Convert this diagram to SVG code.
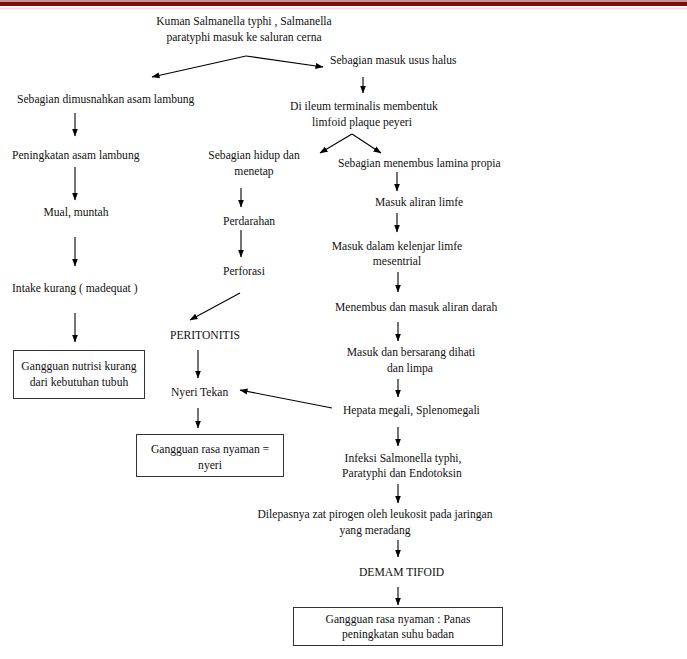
<svg xmlns="http://www.w3.org/2000/svg" width="687" height="659" viewBox="0 0 687 659">
<defs>
<marker id="ah" markerUnits="userSpaceOnUse" markerWidth="8" markerHeight="8" viewBox="0 0 8 8" refX="7.5" refY="4" orient="auto">
<path d="M0,1 L8,4 L0,7 Z" fill="#000"/>
</marker>
<style>
text{font-family:"Liberation Serif","Times New Roman",serif;font-size:11.6px;fill:#111}
.m{text-anchor:middle}
.c{stroke:#000;stroke-width:1.1;fill:none;marker-end:url(#ah)}
.box{fill:#fff;stroke:#333;stroke-width:1}
</style>
</defs>
<rect width="687" height="659" fill="#fff"/>
<g id="header">
<rect x="0" y="0" width="687" height="2" fill="#c89090"/>
<rect x="0" y="2" width="687" height="4" fill="#7a0d0d"/>
<rect x="0" y="7.5" width="687" height="2" fill="#efdede"/>
</g>
<g id="connectors">
<line class="c" x1="246" y1="56" x2="152" y2="77"/>
<line class="c" x1="246" y1="56" x2="323" y2="67"/>
<line class="c" x1="363" y1="77" x2="363" y2="93"/>
<line class="c" x1="352" y1="134" x2="320" y2="153"/>
<line class="c" x1="352" y1="134" x2="381" y2="153"/>
<line class="c" x1="75" y1="113" x2="75" y2="136"/>
<line class="c" x1="75" y1="167" x2="75" y2="200"/>
<line class="c" x1="75" y1="237" x2="75" y2="266"/>
<line class="c" x1="75" y1="313" x2="75" y2="342"/>
<line class="c" x1="241" y1="188" x2="241" y2="207"/>
<line class="c" x1="241" y1="230" x2="241" y2="257"/>
<line class="c" x1="240" y1="293" x2="190" y2="320"/>
<line class="c" x1="198" y1="350" x2="198" y2="378"/>
<line class="c" x1="198" y1="408" x2="198" y2="428"/>
<line class="c" x1="332" y1="408" x2="240" y2="390"/>
<line class="c" x1="397" y1="172" x2="397" y2="191"/>
<line class="c" x1="397" y1="213" x2="397" y2="232"/>
<line class="c" x1="398" y1="272" x2="398" y2="292"/>
<line class="c" x1="398" y1="322" x2="398" y2="341"/>
<line class="c" x1="398" y1="379" x2="398" y2="397"/>
<line class="c" x1="398" y1="427" x2="398" y2="446"/>
<line class="c" x1="398" y1="484" x2="398" y2="503"/>
<line class="c" x1="398" y1="540" x2="398" y2="557"/>
<line class="c" x1="398" y1="587" x2="398" y2="605"/>
</g>
<g id="n-kuman"><text class="m" x="244" y="25">Kuman Salmanella typhi , Salmanella</text><text class="m" x="244" y="41">paratyphi masuk ke saluran cerna</text></g>
<g id="n-usus"><text x="330" y="64">Sebagian masuk usus halus</text></g>
<g id="n-dimusnahkan"><text x="17" y="103">Sebagian dimusnahkan asam lambung</text></g>
<g id="n-ileum"><text class="m" x="364" y="110">Di ileum terminalis membentuk</text><text class="m" x="362" y="126">limfoid plaque peyeri</text></g>
<g id="n-peningkatan"><text x="12" y="159">Peningkatan asam lambung</text></g>
<g id="n-mual"><text class="m" x="76" y="216">Mual, muntah</text></g>
<g id="n-intake"><text x="12" y="292">Intake kurang ( madequat )</text></g>
<g id="n-nutrisi"><rect class="box" x="13.5" y="350.5" width="131" height="48"/><text class="m" x="79" y="370">Gangguan nutrisi kurang</text><text class="m" x="79" y="386">dari kebutuhan tubuh</text></g>
<g id="n-hidup"><text class="m" x="254" y="159">Sebagian hidup dan</text><text class="m" x="254" y="175">menetap</text></g>
<g id="n-perdarahan"><text x="223" y="225">Perdarahan</text></g>
<g id="n-perforasi"><text x="223" y="275">Perforasi</text></g>
<g id="n-peritonitis"><text x="170" y="339">PERITONITIS</text></g>
<g id="n-nyeri"><text x="171" y="396">Nyeri Tekan</text></g>
<g id="n-nyaman"><rect class="box" x="136.5" y="434.5" width="147" height="42"/><text class="m" x="210" y="453">Gangguan rasa nyaman =</text><text class="m" x="210" y="469">nyeri</text></g>
<g id="n-lamina"><text x="338" y="167">Sebagian menembus lamina propia</text></g>
<g id="n-limfe"><text x="375" y="206">Masuk aliran limfe</text></g>
<g id="n-kelenjar"><text class="m" x="397" y="250">Masuk dalam kelenjar limfe</text><text class="m" x="397" y="265">mesentrial</text></g>
<g id="n-darah"><text x="335" y="311">Menembus dan masuk aliran darah</text></g>
<g id="n-hati"><text class="m" x="411" y="356">Masuk dan bersarang dihati</text><text class="m" x="410" y="372">dan limpa</text></g>
<g id="n-hepata"><text x="343" y="414">Hepata megali, Splenomegali</text></g>
<g id="n-infeksi"><text class="m" x="403" y="462">Infeksi Salmonella typhi,</text><text class="m" x="402" y="477">Paratyphi dan Endotoksin</text></g>
<g id="n-pirogen"><text class="m" x="375" y="518">Dilepasnya zat pirogen oleh leukosit pada jaringan</text><text class="m" x="375" y="534">yang meradang</text></g>
<g id="n-demam"><text x="359" y="576">DEMAM TIFOID</text></g>
<g id="n-panas"><rect class="box" x="293.5" y="607.5" width="209" height="38"/><text class="m" x="398" y="623">Gangguan rasa nyaman : Panas</text><text class="m" x="398" y="638">peningkatan suhu badan</text></g>
</svg>
